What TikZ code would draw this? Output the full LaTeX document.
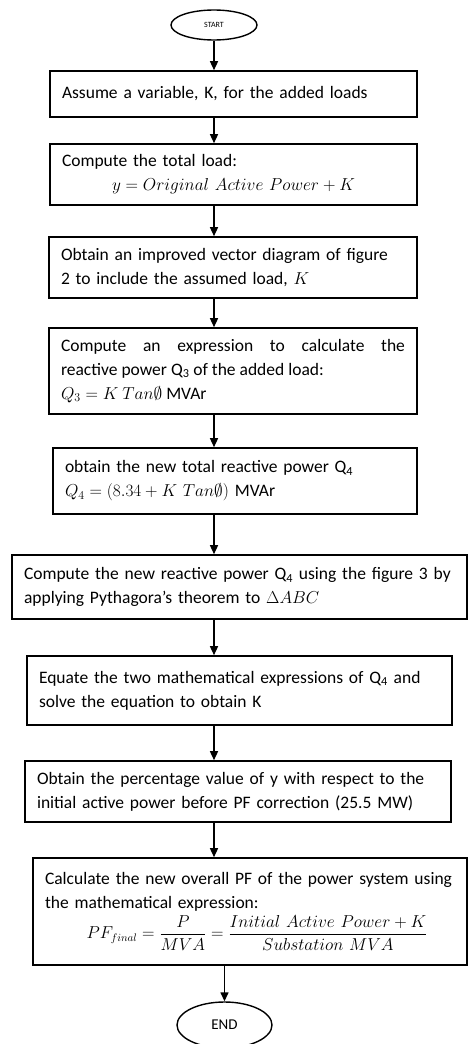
\documentclass[tikz,border=0pt]{standalone}
\usepackage{fontspec}
\setmainfont{Carlito}
\usepackage{amsmath,amssymb}
\usetikzlibrary{shapes.geometric,arrows.meta}

\begin{document}
\begin{tikzpicture}[x=1pt, y=1pt,
				>={Triangle[length=9pt,width=8pt]},   % arrow tips
				font=\fontsize{17.5}{24}\selectfont,
				box/.style 2 args={draw, line width=1.6pt, rectangle, text width=#1, minimum height=#2, inner xsep=12pt, inner ysep=2pt, align=left},
				term/.style={draw, line width=1.4pt, ellipse, inner sep=0pt},
				flow/.style={->, line width=1.4pt}]
				% page size
				\useasboundingbox (0,0) rectangle (468,-1044);
				% terminals
				\node[term, minimum width=86pt, minimum height=30pt] (start) at (214,-25) {\fontsize{8}{8}\selectfont START};
				\node[term, minimum width=95pt, minimum height=46pt] (stop) at (224.5,-1025) {\fontsize{15}{15}\selectfont END};
				% process boxes
				\node[box={343pt}{46pt}] (assume) at (233.5,-94) {Assume a variable, K, for the added loads};
				\node[box={343pt}{61pt}] (total) at (233.5,-174.5) {Compute the total load:\par{\centering $y = Original\ Active\ Power + K$\par}};
				\node[box={344pt}{61pt}] (vector) at (233,-267.5) {Obtain an improved vector diagram of figure\\ 2 to include the assumed load, $K$};
				\node[box={344pt}{86pt}, align=justify] (qadded) at (233,-371) {Compute an expression to calculate the\linebreak reactive power Q\textsubscript{3} of the added load:\\ $Q_3 = K\ Tan\emptyset$ MVAr};
				\node[box={340pt}{66pt}] (qtotal) at (235,-481) {obtain the new total reactive power Q\textsubscript{4}\\ $Q_4 = (8.34 + K\ Tan\emptyset)$ MVAr};
				\node[box={431pt}{64pt}] (pythag) at (239.5,-587) {Compute the new reactive power Q\textsubscript{4} using the figure 3 by\\ applying Pythagora's theorem to $\Delta ABC$};
				\node[box={401pt}{69pt}] (equate) at (239.5,-690.5) {Equate the two mathematical expressions of Q\textsubscript{4} and\\ solve the equation to obtain K};
				\node[box={402pt}{61pt}] (percent) at (238,-791.5) {Obtain the percentage value of y with respect to the\\ initial active power before PF correction (25.5 MW)};
				\node[box={410pt}{107pt}] (pffinal) at (250,-911.5) {Calculate the new overall PF of the power system using\\ the mathematical expression:\par\vspace{3pt}{\centering\fontsize{16}{20}\selectfont\hspace*{14pt}$\displaystyle PF_{final} = \frac{P}{MVA} = \frac{Initial\ Active\ Power + K}{Substation\ MVA}$\par}};
				% connectors
				\draw[flow] (start.south) -- (assume.north -| start);
				\foreach \a/\b in {assume/total, total/vector, vector/qadded, qadded/qtotal, qtotal/pythag, pythag/equate, equate/percent, percent/pffinal}
					\draw[flow] (\a.south -| start) -- (\b.north -| start);
				\draw[flow] (pffinal.south -| stop) -- (stop.north);
			\end{tikzpicture}
\end{document}
